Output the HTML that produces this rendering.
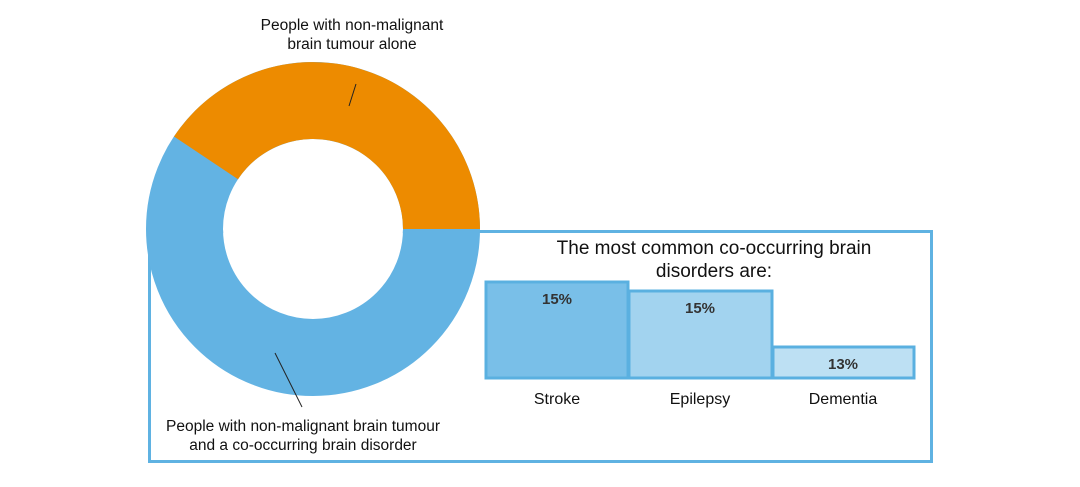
<!DOCTYPE html>
<html><head><style>
body{margin:0;background:#fff;width:1080px;height:482px;overflow:hidden;font-family:"Liberation Sans",Arial,sans-serif}
</style></head><body>
<svg width="1080" height="482" xmlns="http://www.w3.org/2000/svg" font-family="Liberation Sans, Arial, sans-serif">
<rect x="149.5" y="231.5" width="782" height="230" fill="#fff" stroke="#5fb2e2" stroke-width="3"/>
<rect x="486" y="282" width="142" height="96" fill="#79bfe8" stroke="#5ab0e0" stroke-width="3"/>
<rect x="629" y="291" width="143" height="87" fill="#a2d3ef" stroke="#5ab0e0" stroke-width="3"/>
<rect x="773" y="347" width="141" height="31" fill="#bde0f3" stroke="#5ab0e0" stroke-width="3"/>
<g font-weight="bold" font-size="15" fill="#333" text-anchor="middle">
<text x="557" y="304">15%</text>
<text x="700" y="313">15%</text>
<text x="843" y="369">13%</text>
</g>
<g font-size="16" fill="#111" text-anchor="middle">
<text x="557" y="404">Stroke</text>
<text x="700" y="404">Epilepsy</text>
<text x="843" y="404">Dementia</text>
<text x="714" y="254" font-size="19">The most common co-occurring brain</text>
<text x="714" y="277" font-size="19">disorders are:</text>
</g>
<circle cx="313" cy="229" r="90" fill="#fff"/>
<circle cx="313" cy="229" r="128.5" fill="none" stroke="#63b3e3" stroke-width="77"/>
<path d="M480,229 A167,167 0 0 0 174,136.5 L238,179.2 A90,90 0 0 1 403,229 Z" fill="#ed8b00"/>
<line x1="349" y1="106" x2="356" y2="84" stroke="#222" stroke-width="1"/>
<line x1="275" y1="353" x2="302" y2="407" stroke="#222" stroke-width="1"/>
<g font-size="15.5" fill="#111" text-anchor="middle">
<text x="352" y="30">People with non-malignant</text>
<text x="352" y="49">brain tumour alone</text>
<text x="303" y="431">People with non-malignant brain tumour</text>
<text x="303" y="450">and a co-occurring brain disorder</text>
</g>
</svg>
</body></html>
